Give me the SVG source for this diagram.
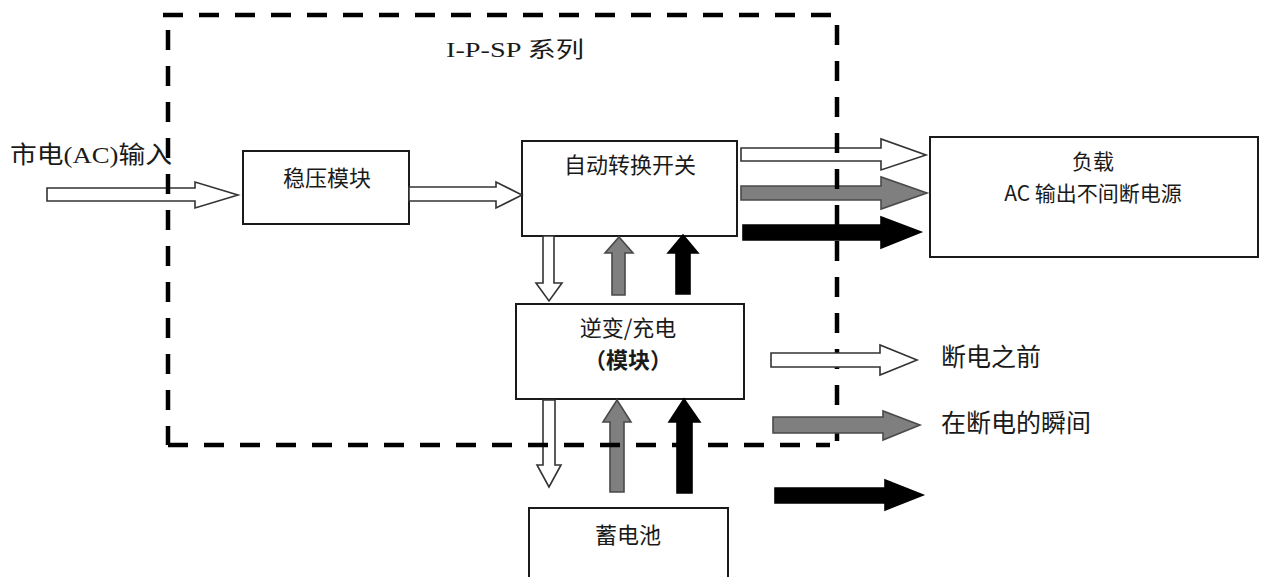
<svg xmlns="http://www.w3.org/2000/svg" width="1263" height="577" viewBox="0 0 1263 577">
<style>
.box{fill:#fff;stroke:#1a1a1a;stroke-width:2}
.t{font-family:"Noto Sans CJK SC","Liberation Sans",sans-serif;fill:#1a1a1a;text-anchor:middle}
.ts{font-family:"Liberation Serif","Noto Sans CJK SC",serif;fill:#1a1a1a}
.hol{fill:#fff;stroke:#333;stroke-width:1.6;stroke-linejoin:miter}
.gry{fill:#7f7f7f;stroke:#4a4a4a;stroke-width:1.6}
.blk{fill:#000;stroke:#000;stroke-width:1.6}
.frame{stroke:#000;stroke-width:4.5;stroke-dasharray:20 16;fill:none}
</style>
<rect width="1263" height="577" fill="#fff"/>

<text class="ts" x="10" y="163" font-size="24" textLength="162" lengthAdjust="spacingAndGlyphs"><tspan font-family="Noto Sans CJK SC,sans-serif">市电</tspan>(AC)<tspan font-family="Noto Sans CJK SC,sans-serif">输入</tspan></text>
<text class="ts" x="446" y="57" font-size="22" textLength="138" lengthAdjust="spacingAndGlyphs">I-P-SP <tspan font-family="Noto Sans CJK SC,sans-serif">系列</tspan></text>

<g id="n-wenya"><rect class="box" x="243" y="151" width="166" height="73"/><text class="t" x="327" y="186" font-size="22">稳压模块</text></g>
<g id="n-ats"><rect class="box" x="522" y="141" width="215" height="95"/><text class="t" x="630" y="173" font-size="22">自动转换开关</text></g>
<g id="n-inv"><rect class="box" x="516" y="304" width="228" height="95"/><text class="t" x="628" y="336" font-size="22">逆变/充电</text><text class="t" x="628" y="368" font-size="22" font-weight="bold">（模块）</text></g>
<g id="n-bat"><rect class="box" x="529" y="508" width="199" height="75"/><text class="t" x="628" y="543" font-size="22">蓄电池</text></g>
<g id="n-load"><rect class="box" x="930" y="137" width="328" height="120"/><text class="t" x="1093" y="169" font-size="21">负载</text><text class="t" x="1093" y="201" font-size="21">AC 输出不间断电源</text></g>

<g id="connectors">
<polygon class="hol" points="47,188 195,188 195,182 238,195 195,208 195,201 47,201"/>
<polygon class="hol" points="409,187 496,187 496,182 522,195 496,208 496,201 409,201"/>
<polygon class="hol" points="741,148 881,148 881,139 926,155 881,170 881,161 741,161"/>
<polygon class="gry" points="741,186 881,186 881,177 927,193 881,209 881,200 741,200"/>
<polygon class="blk" points="743,225 881,225 881,217 921,232 881,248 881,240 743,240"/>
<polygon class="hol" points="543,236 543,283 536,283 549,301 562,283 554,283 554,236"/>
<polygon class="gry" points="612,295 612,253 605,253 619,237 633,253 625,253 625,295"/>
<polygon class="blk" points="676,294 676,253 668,253 683,235 698,253 690,253 690,294"/>
<polygon class="hol" points="543,400 543,465 537,465 549,487 561,465 555,465 555,400"/>
<polygon class="gry" points="610,492 610,422 603,422 617,400 631,422 624,422 624,492"/>
<polygon class="blk" points="677,493 677,422 669,422 684,399 700,422 692,422 692,493"/>
</g>

<g id="frame">
<line class="frame" x1="163" y1="15" x2="840" y2="15"/>
<line class="frame" x1="837" y1="25" x2="837" y2="443"/>
<line class="frame" x1="168" y1="30" x2="168" y2="445" stroke-dashoffset="0"/>
<line class="frame" x1="168" y1="445" x2="830" y2="445" stroke-dasharray="0 20 20 16"/>
</g>

<g id="legend">
<polygon class="hol" points="771,353 880,353 880,345 917,360 880,375 880,367 771,367"/>
<text class="t" x="991" y="366" font-size="25">断电之前</text>
<polygon class="gry" points="773,417 883,417 883,411 920,425 883,440 883,433 773,433"/>
<text class="t" x="1016" y="432" font-size="25">在断电的瞬间</text>
<polygon class="blk" points="775,488 885,488 885,480 923,495 885,510 885,503 775,503"/>
</g>
</svg>
